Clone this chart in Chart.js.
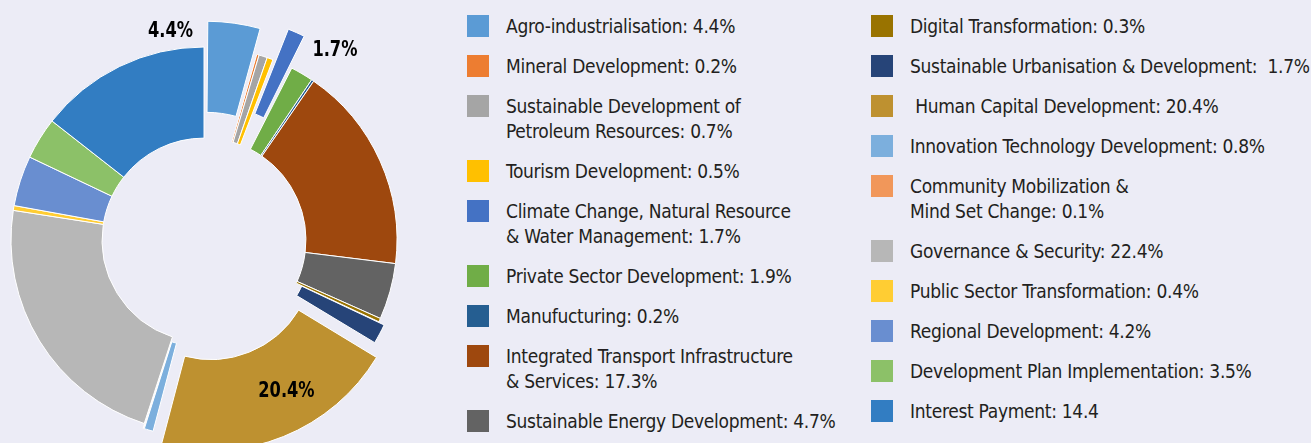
<!DOCTYPE html>
<html>
<head>
<meta charset="utf-8">
<script src="https://cdn.jsdelivr.net/npm/chart.js@4.4.1/dist/chart.umd.min.js"></script>
<style>
  html, body {
    margin: 0;
    padding: 0;
    width: 1311px;
    height: 443px;
    overflow: hidden;
    background: #ececf6;
  }
  #chart-box {
    position: absolute;
    left: 0;
    top: 0;
    width: 408px;
    height: 480px;
  }
  .legend-col {
    position: absolute;
    top: 14px;
    display: flex;
    flex-direction: column;
    gap: 15px;
    font-family: 'DejaVu Sans Condensed', 'DejaVu Sans', sans-serif;
    font-stretch: condensed;
    font-size: 19px;
    letter-spacing: -0.3px;
    line-height: 25px;
    color: #231f20;
  }
  .legend-row {
    display: flex;
    align-items: flex-start;
  }
  .legend-swatch {
    width: 22px;
    height: 22px;
    margin-top: 1px;
    margin-right: 17px;
    flex: none;
  }
  .legend-text div { white-space: pre; }
</style>
</head>
<body>
<div id="chart-box"><canvas id="chart-donut"></canvas></div>
<div class="legend-col" id="legend-1" style="left:467px"></div>
<div class="legend-col" id="legend-2" style="left:871px"></div>

<script>
// --- Datos ---
const categories = [
  'Agro-industrialisation',
  'Mineral Development',
  'Sustainable Development of Petroleum Resources',
  'Tourism Development',
  'Climate Change, Natural Resource & Water Management',
  'Private Sector Development',
  'Manufucturing',
  'Integrated Transport Infrastructure & Services',
  'Sustainable Energy Development',
  'Digital Transformation',
  'Sustainable Urbanisation & Development',
  'Human Capital Development',
  'Innovation Technology Development',
  'Community Mobilization & Mind Set Change',
  'Governance & Security',
  'Public Sector Transformation',
  'Regional Development',
  'Development Plan Implementation',
  'Interest Payment',
];

const shares = [4.4, 0.2, 0.7, 0.5, 1.7, 1.9, 0.2, 17.3, 4.7, 0.3, 1.7, 20.4, 0.8, 0.1, 22.4, 0.4, 4.2, 3.5, 14.4];

// Texto de la leyenda tal como aparece (con sus saltos de línea)
const legendLines = [
  ['Agro-industrialisation: 4.4%'],
  ['Mineral Development: 0.2%'],
  ['Sustainable Development of', 'Petroleum Resources: 0.7%'],
  ['Tourism Development: 0.5%'],
  ['Climate Change, Natural Resource', '& Water Management: 1.7%'],
  ['Private Sector Development: 1.9%'],
  ['Manufucturing: 0.2%'],
  ['Integrated Transport Infrastructure', '& Services: 17.3%'],
  ['Sustainable Energy Development: 4.7%'],
  ['Digital Transformation: 0.3%'],
  ['Sustainable Urbanisation & Development:  1.7%'],
  [' Human Capital Development: 20.4%'],
  ['Innovation Technology Development: 0.8%'],
  ['Community Mobilization &', 'Mind Set Change: 0.1%'],
  ['Governance & Security: 22.4%'],
  ['Public Sector Transformation: 0.4%'],
  ['Regional Development: 4.2%'],
  ['Development Plan Implementation: 3.5%'],
  ['Interest Payment: 14.4'],
];

// --- Estilo ---
const sliceColors = [
  '#5b9bd5', '#ed7d31', '#a5a5a5', '#ffc000', '#4472c4', '#70ad47', '#255e91',
  '#9e480e', '#636363', '#997300', '#264478', '#be9130', '#7cafdd', '#f1975a',
  '#b7b7b7', '#ffcd33', '#698ed0', '#8cc168', '#327dc2',
];
// Separación (explode) de cada porción, en px de Chart.js
const sliceOffsets = [60, 0, 0, 0, 72, 0, 0, 0, 0, 0, 13, 73, 10, 10, 0, 0, 0, 0, 0];
// Porciones con etiqueta de valor y dónde se coloca
const valueLabels = { 0: 'before', 4: 'after', 11: 'inside' };
const LEGEND_SPLIT = 9;

const LABEL_FONT = "bold 22px 'DejaVu Sans Condensed', 'DejaVu Sans', sans-serif";
const LABEL_SQUEEZE = 0.82; // fuente condensada de la imagen original

/** Plugin: dibuja los porcentajes junto a las porciones separadas */
const sliceValueLabels = {
  id: 'sliceValueLabels',
  afterDatasetsDraw(chart) {
    const meta = chart.getDatasetMeta(0);
    const ctx = chart.ctx;
    Object.entries(valueLabels).forEach(([idx, place]) => {
      const arc = meta.data[idx];
      const { x, y, startAngle, endAngle, innerRadius, outerRadius, circumference } =
        arc.getProps(['x', 'y', 'startAngle', 'endAngle', 'innerRadius', 'outerRadius', 'circumference'], true);
      const off = (arc.options.offset || 0) / 4;
      const fix = 1 - Math.sin(Math.min(Math.PI, circumference));
      const mid = (startAngle + endAngle) / 2;
      const cx = x + Math.cos(mid) * off;
      const cy = y + Math.sin(mid) * off;
      const rOut = outerRadius + off * fix;
      const rIn = innerRadius + off * fix;
      const text = shares[idx] + '%';

      let px, py, align;
      if (place === 'before') {
        align = 'right';
        px = cx + Math.cos(startAngle) * rOut - 13;
        py = cy + Math.sin(startAngle) * rOut + 10;
      } else if (place === 'after') {
        align = 'left';
        px = cx + Math.cos(endAngle) * rOut + 6;
        py = cy + Math.sin(endAngle) * rOut + 13;
      } else {
        const a = startAngle + (endAngle - startAngle) * 0.4;
        const r = (rIn + rOut) / 2 + 6;
        align = 'center';
        px = cx + Math.cos(a) * r;
        py = cy + Math.sin(a) * r;
      }
      ctx.save();
      ctx.font = LABEL_FONT;
      ctx.fillStyle = '#000000';
      ctx.textBaseline = 'middle';
      ctx.textAlign = align;
      ctx.translate(px, py);
      ctx.scale(LABEL_SQUEEZE, 1);
      ctx.fillText(text, 0, 0);
      ctx.restore();
    });
  },
};

function buildLegend() {
  const cols = [document.getElementById('legend-1'), document.getElementById('legend-2')];
  legendLines.forEach((lines, i) => {
    const row = document.createElement('div');
    row.className = 'legend-row';
    const sw = document.createElement('div');
    sw.className = 'legend-swatch';
    sw.style.background = sliceColors[i];
    const txt = document.createElement('div');
    txt.className = 'legend-text';
    lines.forEach(line => {
      const l = document.createElement('div');
      l.textContent = line;
      txt.appendChild(l);
    });
    row.appendChild(sw);
    row.appendChild(txt);
    cols[i < LEGEND_SPLIT ? 0 : 1].appendChild(row);
  });
}

buildLegend();

new Chart(document.getElementById('chart-donut').getContext('2d'), {
  type: 'doughnut',
  data: {
    labels: categories,
    datasets: [{
      data: shares,
      backgroundColor: sliceColors,
      borderColor: '#ffffff',
      borderWidth: 1,
      offset: sliceOffsets,
    }],
  },
  options: {
    responsive: true,
    maintainAspectRatio: false,
    animation: false,
    radius: 193,
    cutout: '52.8%',
    layout: { padding: 0 },
    plugins: {
      legend: { display: false },
      tooltip: { enabled: false },
    },
  },
  plugins: [sliceValueLabels],
});
</script>
</body>
</html>
